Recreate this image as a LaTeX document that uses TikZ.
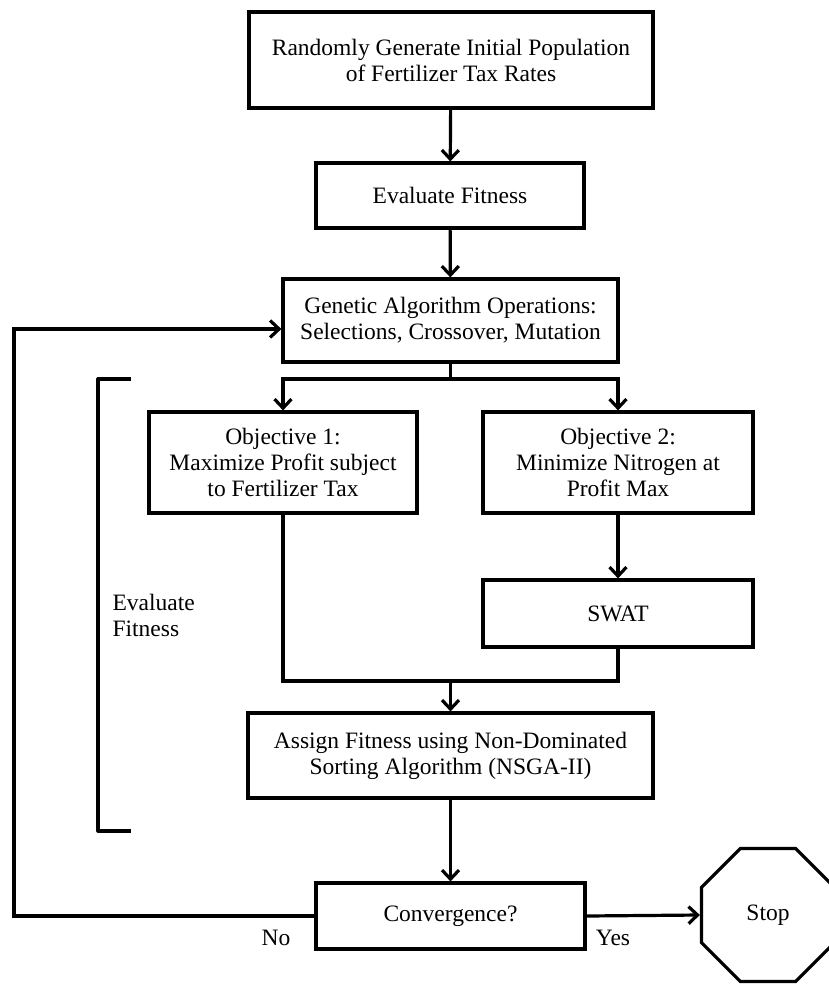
\documentclass[tikz,border=0pt]{standalone}
\usepackage{fontspec}
\setmainfont{Liberation Serif}
\usetikzlibrary{arrows.meta,shapes.geometric}
\begin{document}
\begin{tikzpicture}[x=1pt,y=-1pt,
  line width=3.2pt,
  every node/.style={font=\fontsize{23.5}{26}\selectfont, align=center, inner sep=0pt},
  box/.style={draw, rectangle, line join=miter},
  arr/.style={-{Straight Barb[length=9pt,width=17pt,line width=3.2pt]}},
  lbl/.style={font=\fontsize{23.5}{26}\selectfont}]
\useasboundingbox (0,0) rectangle (828,984);
\node[box, minimum width=404pt, minimum height=96pt] (b1) at (451,60)
  {Randomly Generate Initial Population\\of Fertilizer Tax Rates};
\node[box, minimum width=268pt, minimum height=65pt] (b2) at (450,195.5)
  {Evaluate Fitness};
\node[box, minimum width=335pt, minimum height=83pt] (b3) at (450.5,320.5)
  {Genetic Algorithm Operations:\\Selections, Crossover, Mutation};
\node[box, minimum width=268pt, minimum height=101pt] (o1) at (283,462.5)
  {Objective 1:\\Maximize Profit subject\\to Fertilizer Tax};
\node[box, minimum width=270pt, minimum height=101pt] (o2) at (618,462.5)
  {Objective 2:\\Minimize Nitrogen at\\Profit Max};
\node[box, minimum width=270pt, minimum height=67pt] (sw) at (618,613.5)
  {SWAT};
\node[box, minimum width=405pt, minimum height=85pt] (as) at (450.5,755.5)
  {Assign Fitness using Non-Dominated\\Sorting Algorithm (NSGA-II)};
\node[box, minimum width=269pt, minimum height=66pt] (cv) at (450.5,916)
  {Convergence?};
\node[draw, regular polygon, regular polygon sides=8, minimum size=144pt] (st) at (768,915)
  {Stop};
\node[lbl, anchor=west, align=left] (ef) at (111,615) {Evaluate\\Fitness};
\node[lbl] (no) at (276,938) {No};
\node[lbl] (yes) at (613,938) {Yes};
\coordinate (sp) at (450.5,379);
\coordinate (mg) at (450.5,681);
\coordinate (lp) at (14,329);
\coordinate (bt1) at (131,379);
\coordinate (bt2) at (98,379);
\coordinate (bb1) at (98,831);
\coordinate (bb2) at (131,831);
\draw[arr] (b1) -- (b2);
\draw[arr] (b2) -- (b3);
\draw (b3.south) -- (sp);
\draw[arr] (sp) -| (o1.north);
\draw[arr] (sp) -| (o2.north);
\draw[arr] (o2) -- (sw);
\draw (o1.south) |- (mg);
\draw (sw.south) |- (mg);
\draw[arr] (mg) -- (as.north);
\draw[arr] (as) -- (cv);
\draw[arr] (cv.east) -- (st.west);
\draw[arr] (cv.west) -| (lp) -- (lp -| b3.west);
\draw[line join=round] (bt1) -- (bt2) -- (bb1) -- (bb2);
\end{tikzpicture}
\end{document}
